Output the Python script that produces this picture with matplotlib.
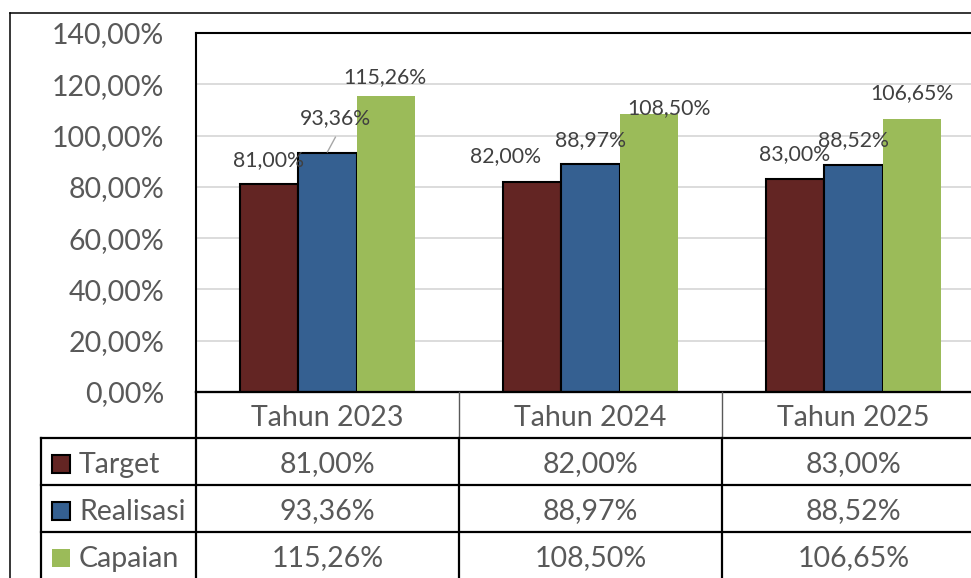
import numpy as np
import matplotlib.pyplot as plt
from matplotlib.lines import Line2D
from matplotlib.patches import Rectangle

plt.rcParams['font.family'] = ['Lato', 'DejaVu Sans']

categories = ["Tahun 2023", "Tahun 2024", "Tahun 2025"]
series_names = ["Target", "Realisasi", "Capaian"]
target = [81.00, 82.00, 83.00]
realisasi = [93.36, 88.97, 88.52]
capaian = [115.26, 108.50, 106.65]
yticks = [0, 20, 40, 60, 80, 100, 120, 140]

colors = ["#632523", "#356091", "#9bbb59"]
edges = ["black", "black", "none"]
text_c = "#595959"

def pct(v):
    return f"{v:.2f}%".replace(".", ",")

W, H = 971, 578
fig = plt.figure(figsize=(W / 100, H / 100), dpi=100)
fig.patch.set_facecolor("white")

# plot area in pixel units (right edge lies outside the picture, as in the reference)
L, T, R, B = 196, 33, 985, 392
ax = fig.add_axes([L / W, 1 - B / H, (R - L) / W, (B - T) / H])
ax.set_xlim(-0.5, 2.5)
ax.set_ylim(0, 140)

values = [target, realisasi, capaian]
x = np.arange(len(categories))
bw = 0.223
for i, vals in enumerate(values):
    ax.bar(x + (i - 1) * bw, vals, bw, color=colors[i], edgecolor=edges[i],
           linewidth=1.5, zorder=3)

# data labels: manual nudges (category units, percent units) as placed in the source
nudges = [
    [(0.0, 9.6), (-0.10, 10.0), (0.0, 9.6)],
    [(0.03, 13.3), (0.0, 9.3), (0.0, 9.8)],
    [(-0.006, 7.6), (0.076, 2.3), (0.0, 10.0)],
]
for i, vals in enumerate(values):
    for j, v in enumerate(vals):
        dx, dy = nudges[i][j]
        ax.text(x[j] + (i - 1) * bw + dx, v + dy, pct(v), ha="center",
                va="center", fontsize=15.3, color="#404040", zorder=5)
# leader line for the moved label
ax.plot([x[0], x[0] + 0.03], [realisasi[0] + 0.3, realisasi[0] + 6.0],
        color="#a6a6a6", lw=1, zorder=4)

ax.set_yticks(yticks)
ax.set_yticklabels([pct(v) for v in yticks], fontsize=20.5, color=text_c)
ax.tick_params(axis="y", length=0, pad=23)
ax.set_xticks([])
ax.grid(axis="y", color="#d9d9d9", lw=1.3, zorder=0)
for s in ["left", "top", "right", "bottom"]:
    ax.spines[s].set_color("black")
    ax.spines[s].set_linewidth(1.5)

# data table and outer frame drawn in pixel coordinates
ov = fig.add_axes([0, 0, 1, 1], zorder=10)
ov.set_xlim(0, W)
ov.set_ylim(H, 0)
ov.axis("off")
ov.patch.set_alpha(0)

def hline(y, x0, x1, lw=1.6, c="black"):
    ov.add_line(Line2D([x0, x1], [y, y], lw=lw, color=c))

def vline(xx, y0, y1, lw=1.6, c="black"):
    ov.add_line(Line2D([xx, xx], [y0, y1], lw=lw, color=c))

# outer chart frame
hline(13, 10, W, lw=1.1)
vline(10, 13, H, lw=1.1)

col_edges = [L, 459, 722, R]
row_edges = [B, 438, 485, 532, 579]
hline(B, L, W)
for ry in row_edges[1:4]:
    hline(ry, 41, W)
vline(41, row_edges[1], H)
vline(L, B, H)
for cx in col_edges[1:3]:
    vline(cx, B, row_edges[1], lw=1.0, c="#595959")
    vline(cx, row_edges[1], H)

shift = 3
for j, cat in enumerate(categories):
    cx = (col_edges[j] + col_edges[j + 1]) / 2
    ov.text(cx, (row_edges[0] + row_edges[1]) / 2 + shift, cat, ha="center",
            va="center", fontsize=20.5, color=text_c)
    for i, vals in enumerate(values):
        ov.text(cx, (row_edges[i + 1] + row_edges[i + 2]) / 2 + shift, pct(vals[j]),
                ha="center", va="center", fontsize=20.5, color=text_c)

for i, name in enumerate(series_names):
    cy = (row_edges[i + 1] + row_edges[i + 2]) / 2
    ov.add_patch(Rectangle((52, cy - 7), 18, 18, facecolor=colors[i],
                           edgecolor=edges[i], lw=1.5))
    ov.text(79, cy + shift, name, ha="left", va="center", fontsize=20.5, color=text_c)

fig.savefig("out.png", dpi=100)
